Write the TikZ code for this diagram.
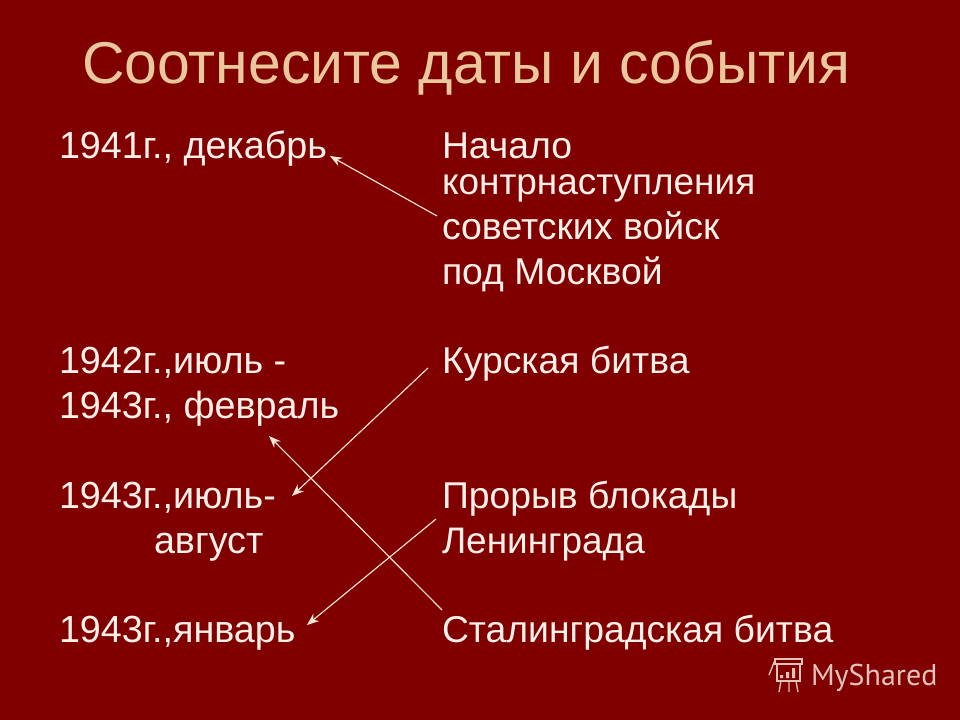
\documentclass[tikz,border=0pt]{standalone}
\usepackage{fontspec}
\setmainfont{Liberation Sans}
\newfontfamily\wmfont{PT Sans}
\usetikzlibrary{arrows.meta}
\definecolor{bgred}{HTML}{800000}
\definecolor{titlecol}{HTML}{E9C89C}
\definecolor{bodycol}{HTML}{FFF0EA}
\definecolor{wmcol}{HTML}{E2C3BC}
\definecolor{arrowcol}{HTML}{FFE6D8}
\tikzset{
  body/.style={anchor=base west,inner sep=0pt,outer sep=0pt,text=bodycol,font=\fontsize{28pt}{32pt}\selectfont},
  datetxt/.style={body,font=\fontsize{28.3pt}{32pt}\selectfont},
  ttl/.style={anchor=base west,inner sep=0pt,outer sep=0pt,text=titlecol,font=\fontsize{44.2pt}{50pt}\selectfont},
  wm/.style={anchor=base west,inner sep=0pt,outer sep=0pt,text=wmcol,font=\wmfont\fontsize{22.5pt}{26pt}\selectfont},
  link/.style={draw=arrowcol,line width=0.85pt,-{Stealth[length=9pt,width=7pt]}},
  icon/.style={draw=wmcol,line width=1pt}
}
\begin{document}
\begin{tikzpicture}[x=0.75pt,y=-0.75pt]
\useasboundingbox (0,0) rectangle (960,720);
\fill[bgred] (0,0) rectangle (960,720);
\node[ttl] (title) at (82,84) {Соотнесите даты и события};
\node[datetxt] (d1) at (59,158.5) {1941г., декабрь};
\node[datetxt] (d2) at (59,373.5) {1942г.,июль -};
\node[datetxt] (d3) at (59,418.5) {1943г., февраль};
\node[datetxt] (d4) at (59,508.5) {1943г.,июль-};
\node[datetxt] (d4b) at (154,553.5) {август};
\node[datetxt] (d5) at (59,642) {1943г.,январь};
\node[body] (e1) at (442,158.5) {Начало};
\node[body,font=\fontsize{27.7pt}{32pt}\selectfont] (e1b) at (442,194.5) {контрнаступления};
\node[body,font=\fontsize{28.1pt}{32pt}\selectfont] (e1c) at (442,239.5) {советских войск};
\node[body] (e1d) at (442,284.5) {под Москвой};
\node[body] (e2) at (442,373.5) {Курская битва};
\node[body] (e3) at (442,508.5) {Прорыв блокады};
\node[body,font=\fontsize{27.7pt}{32pt}\selectfont] (e3b) at (442,553.5) {Ленинграда};
\node[body] (e4) at (442,642) {Сталинградская битва};
\coordinate (a1s) at (437,216); \coordinate (a1e) at (330,156);
\coordinate (a2s) at (428,368); \coordinate (a2e) at (292,496);
\coordinate (a3s) at (442,610); \coordinate (a3e) at (269,436);
\coordinate (a4s) at (436,519); \coordinate (a4e) at (307,625);
\draw[link] (a1s) -- (a1e);
\draw[link] (a2s) -- (a2e);
\draw[link] (a3s) -- (a3e);
\draw[link] (a4s) -- (a4e);
\node[wm] (wmtext) at (811,685) {MyShared};
\draw[icon] (775,662) -- (775,659) -- (802,659) -- (802,664) -- (775,664) -- (775,662);
\draw[icon] (777,664) -- (777,681) -- (800,681) -- (800,664);
\draw[icon] (769,675) -- (775,660);
\draw[icon] (781,681) -- (779,692) (789,681) -- (789,692) (796,681) -- (798,692);
\fill[wmcol] (780,675) rectangle (783,678) (786,672) rectangle (789,678) (792,668) rectangle (795,678);
\end{tikzpicture}
\end{document}
